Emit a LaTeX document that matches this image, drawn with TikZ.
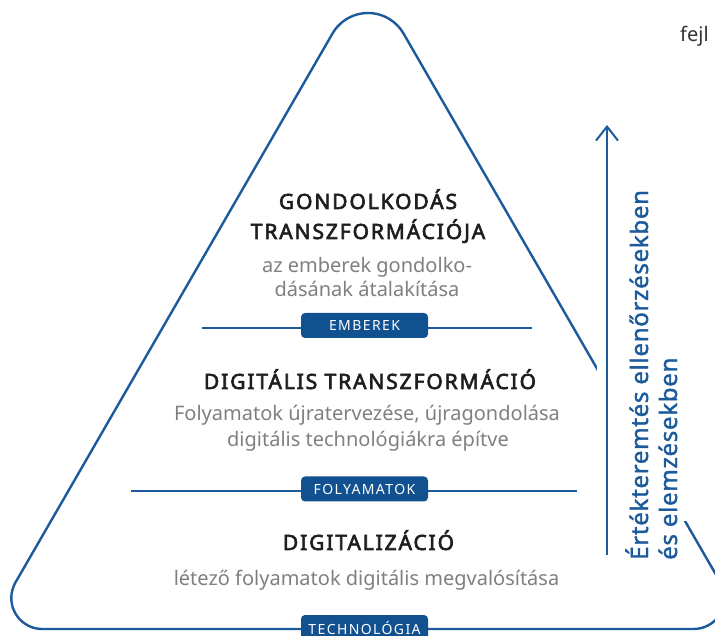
\documentclass[tikz,border=0pt]{standalone}
\usepackage{fontspec}
\setmainfont{Noto Sans}
\newfontfamily\headfont[LetterSpace=9, FakeBold=3]{Noto Sans}
\newfontfamily\tagfont[LetterSpace=10]{Noto Sans}
\newfontfamily\vfont[FakeBold=1.5, LetterSpace=3]{Noto Sans}
\usetikzlibrary{arrows.meta}
\definecolor{tblue}{HTML}{1B5A9B}
\definecolor{lblue}{HTML}{125190}
\definecolor{ink}{HTML}{1E1E1E}
\definecolor{greytxt}{HTML}{808080}
\definecolor{darktxt}{HTML}{333333}
\begin{document}
\begin{tikzpicture}[x=1pt,y=1pt,
  tri/.style={draw=tblue, line width=2.4pt},
  sep/.style={draw=tblue, line width=2pt},
  head/.style={anchor=base, text=ink, inner sep=0pt, font=\headfont\fontsize{21}{25}\selectfont},
  sub/.style={anchor=base, text=greytxt, inner sep=0pt, font=\fontsize{20}{24}\selectfont},
  tag/.style={fill=lblue, text=white, rounded corners=4pt, minimum width=127pt, minimum height=25pt, inner sep=0pt, font=\tagfont\fontsize{14}{16}\selectfont},
  vtext/.style={rotate=90, anchor=base west, text=tblue, inner sep=0pt, font=\vfont\fontsize{24}{28}\selectfont}]
\useasboundingbox (0,0) rectangle (715,635);
\fill[white] (0,0) rectangle (715,635);

% rounded triangle
\draw[tri] (332.5,601.5) arc[start angle=150,end angle=30,radius=41]
  -- (720.5,52.5) arc[start angle=30,end angle=-90,radius=31]
  -- (42.3,6) arc[start angle=270,end angle=150,radius=31] -- cycle;

% white area behind the arrow and its text
\fill[white] (597,114) rectangle (716,535);

% separators
\coordinate (e1) at (202,307);
\coordinate (e2) at (532,307);
\draw[sep] (e1) -- (e2);
\coordinate (f1) at (131,144);
\coordinate (f2) at (577,144);
\draw[sep] (f1) -- (f2);

% tags
\node[tag] (emberek) at (364.5,309.5) {EMBEREK};
\node[tag] (folyamatok) at (364.5,146) {FOLYAMATOK};
\node[tag] (technologia) at (364.5,7.5) {TECHNOLÓGIA};

% texts
\node[head] (h1a) at (368,426) {GONDOLKODÁS};
\node[head] (h1b) at (368,396) {TRANSZFORMÁCIÓJA};
\node[sub] (s1a) at (367,362) {az emberek gondolko-};
\node[sub] (s1b) at (367,338) {dásának átalakítása};

\node[head] (h2) at (370,246) {DIGITÁLIS TRANSZFORMÁCIÓ};
\node[sub] (s2a) at (367,214) {Folyamatok újratervezése, újragondolása};
\node[sub] (s2b) at (368,188) {digitális technológiákra építve};

\node[head] (h3) at (368.5,85) {DIGITALIZÁCIÓ};
\node[sub] (s3) at (366.5,50) {létező folyamatok digitális megvalósítása};

% arrow
\coordinate (a0) at (607,80);
\coordinate (a1) at (607,510);
\draw[tblue, line width=2pt, -{Straight Barb[length=14pt,width=22pt]}] (a0) -- (a1);

\node[vtext] (v1) at (648,75) {Értékteremtés ellenőrzésekben};
\node[vtext] (v2) at (677,75) {és elemzésekben};

% cut text at top right
\node[anchor=base west, text=darktxt, inner sep=0pt, font=\fontsize{20}{24}\selectfont] (fejl) at (680,593) {fejl};
\end{tikzpicture}
\end{document}
